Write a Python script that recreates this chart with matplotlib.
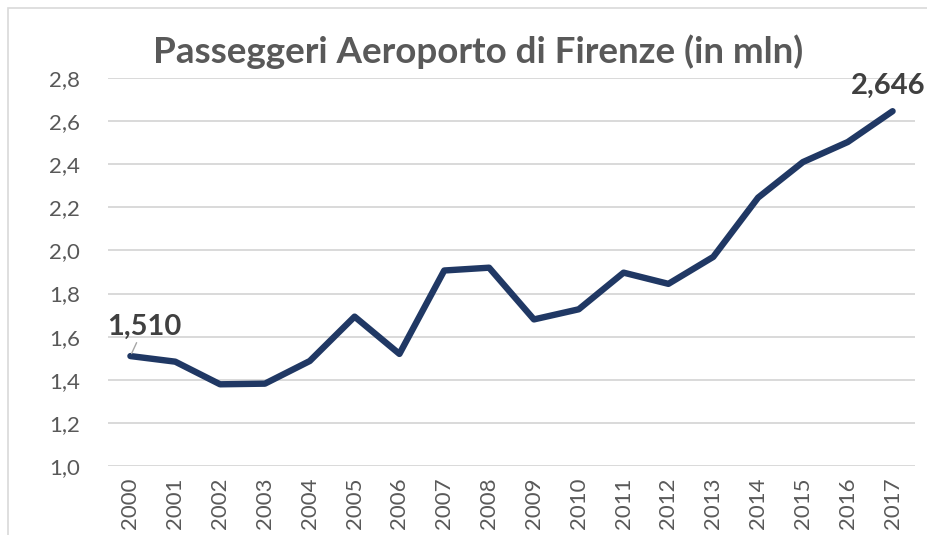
import matplotlib.pyplot as plt
from matplotlib.patches import Rectangle

# Data
years = [str(y) for y in range(2000, 2018)]
passengers = [1.510, 1.484, 1.379, 1.382, 1.487, 1.693, 1.520, 1.907, 1.920, 1.680,
              1.727, 1.897, 1.845, 1.970, 2.245, 2.410, 2.503, 2.646]
y_ticks = [1.0, 1.2, 1.4, 1.6, 1.8, 2.0, 2.2, 2.4, 2.6, 2.8]

plt.rcParams['font.family'] = ['Lato', 'DejaVu Sans']

fig = plt.figure(figsize=(9.28, 5.35), dpi=100)
ax = fig.add_axes([108 / 928, 1 - 466 / 535, (915 - 108) / 928, (466 - 78) / 535])

# chart area border
fig.patches.append(Rectangle((8 / 928, -0.1), 1.0, 1 - 8 / 535 + 0.1,
                             transform=fig.transFigure, fill=False,
                             edgecolor='#d9d9d9', linewidth=1.2))

x = list(range(len(years)))
ax.plot(x, passengers, color='#203864', linewidth=4.6,
        solid_capstyle='round', solid_joinstyle='round', zorder=3)

ax.set_xlim(-0.5, len(years) - 0.5)
ax.set_ylim(1.0, 2.8)
ax.set_yticks(y_ticks)
ax.set_yticklabels([f'{v:.1f}'.replace('.', ',') for v in y_ticks])
ax.set_xticks(x)
ax.set_xticklabels(years, rotation=90)
ax.tick_params(axis='both', length=0, labelsize=16, colors='#595959')
ax.tick_params(axis='y', pad=20)
ax.tick_params(axis='x', pad=8)

ax.grid(axis='y', color='#d9d9d9', linewidth=1.4)
ax.set_axisbelow(True)
for s in ax.spines.values():
    s.set_visible(False)

fig.text(478 / 928, 1 - 52 / 535, 'Passeggeri Aeroporto di Firenze (in mln)',
         ha='center', va='center', fontsize=26.5, fontweight='bold', color='#595959')

# labels on first and last points
first = f'{passengers[0]:.3f}'.replace('.', ',')
last = f'{passengers[-1]:.3f}'.replace('.', ',')
ax.annotate(first, xy=(0, passengers[0]), xytext=(0.3, passengers[0] + 0.075),
            ha='center', va='bottom', fontsize=21, fontweight='bold', color='#404040',
            arrowprops=dict(arrowstyle='-', color='#a6a6a6', lw=1,
                            shrinkA=0, shrinkB=2))
ax.annotate(last, xy=(len(years) - 1, passengers[-1]), xytext=(-3, 9),
            textcoords='offset points', ha='center', va='bottom',
            fontsize=21, fontweight='bold', color='#404040', annotation_clip=False)

fig.savefig('out.png', dpi=100)
